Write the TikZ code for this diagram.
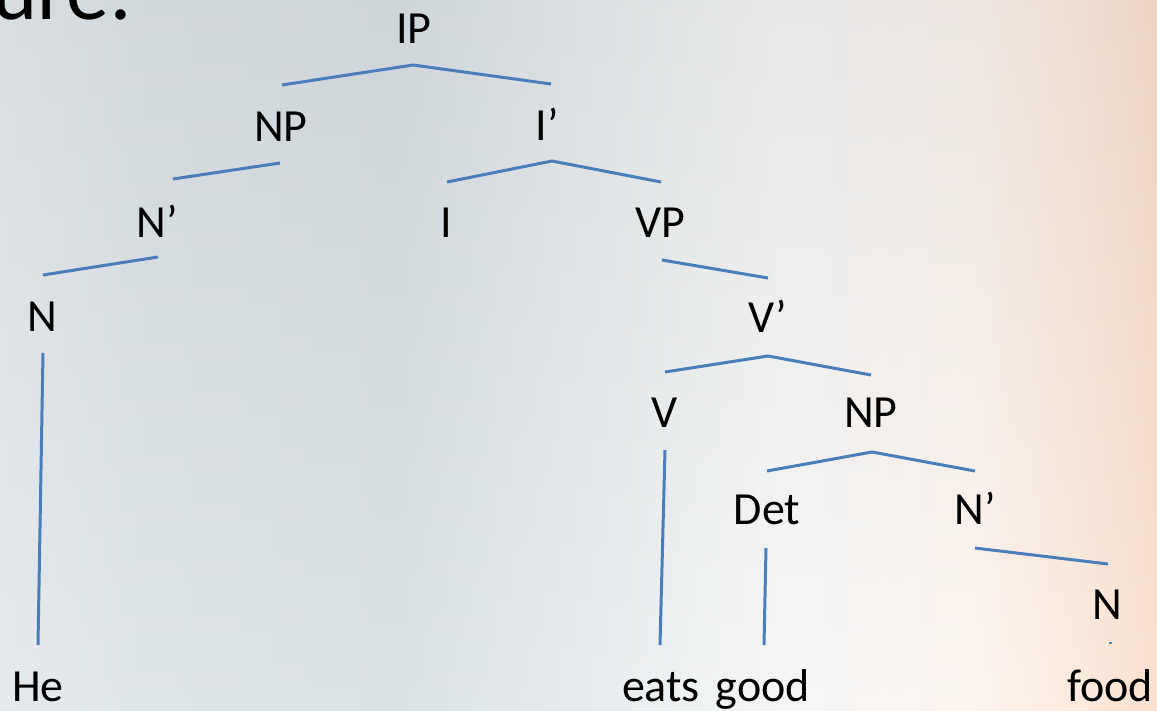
\documentclass[tikz,border=0pt]{standalone}
\usepackage{fontspec}
\setmainfont{Carlito}
\definecolor{lineblue}{HTML}{4A7EBB}
\definecolor{bgA}{HTML}{E5EAED}
\definecolor{bgB}{HTML}{DDE4E8}
\definecolor{bgC}{HTML}{D9E1E5}
\definecolor{bgD}{HTML}{E9EDEF}
\definecolor{bgE}{HTML}{F5F6F6}
\definecolor{bgF}{HTML}{FCF4EE}
\definecolor{bgG}{HTML}{FCEADE}
\definecolor{bgH}{HTML}{FAE0CD}
% stops: px p -> 25 + 50 p / 1157
\pgfdeclarehorizontalshading{slidebg}{100bp}{color(0bp)=(bgA); color(25bp)=(bgA); color(31.5bp)=(bgB); color(42.3bp)=(bgC); color(51bp)=(bgD); color(58.7bp)=(bgE); color(67bp)=(bgF); color(71.5bp)=(bgG); color(75bp)=(bgH); color(100bp)=(bgH)}
\tikzset{
  lbl/.style={font=\fontsize{46}{50}\selectfont, anchor=base, inner sep=0pt, text=black},
  branch/.style={draw=lineblue, line width=3pt},
}
\begin{document}
\begin{tikzpicture}[x=1pt,y=-1pt]
\useasboundingbox (0,0) rectangle (1157,710);
\clip (0,0) rectangle (1157,710);
\shade[shading=slidebg] (0,0) rectangle (1157,710);
\shade[top color=black, bottom color=white, opacity=0.05] (0,0) rectangle (1157,710);

% partial title
\node[anchor=base west, inner sep=0pt, font=\fontsize{86}{94}\selectfont] (title) at (-8,19) {ure:};

% labels
\node[lbl] (ip)   at (414,43)  {IP};
\node[lbl] (np1)  at (281,141) {NP};
\node[lbl] (ibar) at (547,140) {I’};
\node[lbl] (nb1)  at (157,237) {N’};
\node[lbl] (i)    at (446,237) {I};
\node[lbl] (vp)   at (660,237) {VP};
\node[lbl] (n1)   at (42,331)  {N};
\node[lbl] (vbar) at (768,332) {V’};
\node[lbl] (v)    at (665,427) {V};
\node[lbl] (np2)  at (871,427) {NP};
\node[lbl] (det)  at (767,524) {Det};
\node[lbl] (nb2)  at (975,524) {N’};
\node[lbl] (n2)   at (1107,619) {N};
\node[lbl] (he)   at (38,701)  {He};
\node[lbl] (eats) at (661,701) {eats};
\node[lbl] (good) at (763,701) {good};
\node[lbl] (food) at (1110,701) {food};

% connector end points
\coordinate (ip-s)   at (413,65);
\coordinate (np1-n)  at (282,85);
\coordinate (ibar-n) at (551,84);
\coordinate (np1-s)  at (280,163);
\coordinate (nb1-n)  at (173,179);
\coordinate (ibar-s) at (552,161);
\coordinate (i-n)    at (447,182);
\coordinate (vp-n)   at (661,182);
\coordinate (nb1-s)  at (158,257);
\coordinate (n1-n)   at (43,275);
\coordinate (n1-s)   at (43,353);
\coordinate (he-n)   at (38,645);
\coordinate (vp-s)   at (662,260);
\coordinate (vbar-n) at (768,278);
\coordinate (vbar-s) at (768,356);
\coordinate (v-n)    at (665,372);
\coordinate (np2-n)  at (871,375);
\coordinate (v-s)    at (665,450);
\coordinate (eats-n) at (660,645);
\coordinate (np2-s)  at (872,452);
\coordinate (det-n)  at (767,471);
\coordinate (nb2-n)  at (975,471);
\coordinate (det-s)  at (766,548);
\coordinate (good-n) at (764,645);
\coordinate (nb2-s)  at (975,548);
\coordinate (n2-n)   at (1108,564);
\coordinate (n2-s)   at (1110,641.5);
\coordinate (food-n) at (1110,644);

% connectors
\draw[branch] (np1-n) -- (ip-s) -- (ibar-n);
\draw[branch] (np1-s) -- (nb1-n);
\draw[branch] (i-n) -- (ibar-s) -- (vp-n);
\draw[branch] (nb1-s) -- (n1-n);
\draw[branch] (n1-s) -- (he-n);
\draw[branch] (vp-s) -- (vbar-n);
\draw[branch] (v-n) -- (vbar-s) -- (np2-n);
\draw[branch] (v-s) -- (eats-n);
\draw[branch] (det-n) -- (np2-s) -- (nb2-n);
\draw[branch] (det-s) -- (good-n);
\draw[branch] (nb2-s) -- (n2-n);
\draw[branch] (n2-s) -- (food-n);
\end{tikzpicture}
\end{document}
